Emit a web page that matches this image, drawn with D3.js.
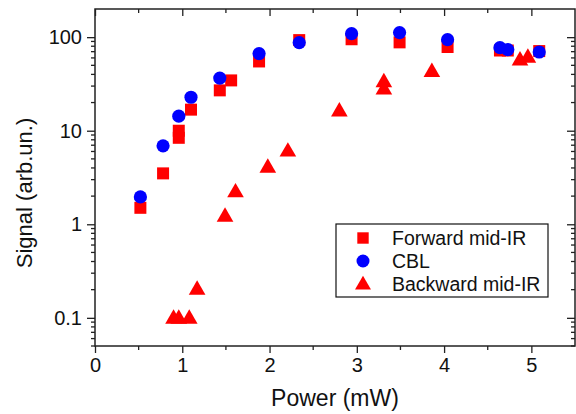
<!DOCTYPE html>
<html>
<head>
<meta charset="utf-8">
<script src="https://cdn.jsdelivr.net/npm/d3@7"></script>
<style>
  body { margin: 0; background: #fff; }
  svg text { font-family: "Liberation Sans", Arial, sans-serif; fill: #111; }
</style>
</head>
<body>
<svg id="chart" width="576" height="414"></svg>
<script>
// data
var fwdX = [0.52, 0.78, 0.96, 0.96, 1.10, 1.43, 1.56, 1.88, 2.34, 2.94, 3.49, 4.04, 4.64, 4.73, 5.09];
var fwdY = [1.5, 3.5, 10.0, 8.4, 16.8, 27, 34.5, 55, 93, 95, 88, 78.5, 72, 72, 71];

var cblX = [0.52, 0.78, 0.96, 1.10, 1.43, 1.88, 2.34, 2.94, 3.49, 4.04, 4.64, 4.73, 5.09];
var cblY = [1.96, 6.9, 14.3, 22.8, 36.5, 66.7, 87.5, 109, 112, 94, 77.3, 73.6, 69.4];

var bwdX = [0.90, 0.96, 1.08, 1.17, 1.49, 1.61, 1.98, 2.21, 2.80, 3.31, 3.31, 3.86, 4.87, 4.96];
var bwdY = [0.1, 0.1, 0.1, 0.204, 1.23, 2.24, 4.1, 6.1, 16.4, 33.6, 28.1, 43.4, 57.5, 61.4];

var xTicks = [0, 1, 2, 3, 4, 5];
var yTicks = [0.1, 1, 10, 100];
var yTickLabels = ["0.1", "1", "10", "100"];
var legendNames = ["Forward mid-IR", "CBL", "Backward mid-IR"];

var svg = d3.select("#chart");
var pL = 95, pR = 575, pT = 9, pB = 346;
var red = "#ff0000", blue = "#0000ff", axisCol = "#222";

var x = d3.scaleLinear().domain([0, 5.5]).range([pL, pR]);
var y = d3.scaleLog().domain([0.05, 200]).range([pB, pT]);

// minor ticks for the log axis (2..9 per decade)
var yMinor = [];
[0.01, 0.1, 1, 10, 100].forEach(function(d) {
  for (var k = 2; k <= 9; k++) {
    var v = d * k;
    if (v >= 0.05 && v < 200) yMinor.push(v);
  }
});
var xMinor = d3.range(0.5, 5.5, 1);

var g = svg.append("g");

// bottom axis
var xAxis = d3.axisBottom(x).tickValues(xTicks).tickSize(7).tickPadding(5).tickFormat(d3.format("d"));
var gx = g.append("g").attr("transform", "translate(0," + pB + ")").call(xAxis);
gx.selectAll(".mnr").data(xMinor).enter().append("line")
  .attr("x1", function(d) { return x(d); }).attr("x2", function(d) { return x(d); })
  .attr("y1", 0).attr("y2", 4);

// top axis (mirror, ticks in)
var gt = g.append("g").attr("transform", "translate(0," + pT + ")")
  .call(d3.axisBottom(x).tickValues(xTicks).tickSize(7).tickFormat(""));
gt.selectAll(".mnr").data(xMinor).enter().append("line")
  .attr("x1", function(d) { return x(d); }).attr("x2", function(d) { return x(d); })
  .attr("y1", 0).attr("y2", 4);

// left axis
var yAxis = d3.axisLeft(y).tickValues(yTicks).tickSize(8).tickPadding(5)
  .tickFormat(function(d, i) { return yTickLabels[i]; });
var gy = g.append("g").attr("transform", "translate(" + pL + ",0)").call(yAxis);
gy.selectAll(".mnr").data(yMinor).enter().append("line")
  .attr("y1", function(d) { return y(d); }).attr("y2", function(d) { return y(d); })
  .attr("x1", 0).attr("x2", -4);

// right axis (mirror, ticks in)
var gr = g.append("g").attr("transform", "translate(" + pR + ",0)")
  .call(d3.axisLeft(y).tickValues(yTicks).tickSize(8).tickFormat(""));
gr.selectAll(".mnr").data(yMinor).enter().append("line")
  .attr("y1", function(d) { return y(d); }).attr("y2", function(d) { return y(d); })
  .attr("x1", 0).attr("x2", -4);

[gx, gt, gy, gr].forEach(function(a) {
  a.select(".domain").remove();
  a.selectAll("line").attr("stroke", axisCol).attr("stroke-width", 1.3);
  a.selectAll("text").attr("font-size", 20).attr("fill", "#111")
    .style("font-family", "'Liberation Sans', Arial, sans-serif");
});

// frame
g.append("rect").attr("x", pL).attr("y", pT)
  .attr("width", pR - pL).attr("height", pB - pT)
  .attr("fill", "none").attr("stroke", axisCol).attr("stroke-width", 1.5);

// symbols
var sq = d3.symbol().type(d3.symbolSquare).size(144);
var tri = d3.symbol().type(d3.symbolTriangle).size(120);

var pts = g.append("g");
pts.selectAll(".fwd").data(fwdX).enter().append("path")
  .attr("d", sq)
  .attr("transform", function(d, i) { return "translate(" + x(d) + "," + y(fwdY[i]) + ")"; })
  .attr("fill", red);

pts.selectAll(".bwd").data(bwdX).enter().append("path")
  .attr("d", tri)
  .attr("transform", function(d, i) { return "translate(" + x(d) + "," + (y(bwdY[i]) + 1) + ")"; })
  .attr("fill", red);

pts.selectAll(".cbl").data(cblX).enter().append("circle")
  .attr("cx", function(d) { return x(d); })
  .attr("cy", function(d, i) { return y(cblY[i]); })
  .attr("r", 6.6)
  .attr("fill", blue);

// axis titles
svg.append("text").attr("x", 335).attr("y", 406).attr("text-anchor", "middle")
  .attr("font-size", 23).text("Power (mW)");
svg.append("text").attr("transform", "translate(32,193) rotate(-90)")
  .attr("text-anchor", "middle").attr("font-size", 22).text("Signal (arb.un.)");

// legend
var lg = svg.append("g");
lg.append("rect").attr("x", 336).attr("y", 224).attr("width", 212).attr("height", 73)
  .attr("fill", "#fff").attr("stroke", "#111").attr("stroke-width", 1.2);
var rowY = d3.scalePoint().domain(legendNames).range([238, 284]);
legendNames.forEach(function(name, i) {
  var cy = rowY(name);
  if (i === 0) lg.append("path").attr("d", d3.symbol().type(d3.symbolSquare).size(130)).attr("fill", red)
    .attr("transform", "translate(363," + cy + ")");
  if (i === 1) lg.append("circle").attr("cx", 363).attr("cy", cy).attr("r", 6.5).attr("fill", blue);
  if (i === 2) lg.append("path").attr("d", d3.symbol().type(d3.symbolTriangle).size(110)).attr("fill", red)
    .attr("transform", "translate(363," + (cy + 1) + ")");
  lg.append("text").attr("x", 392).attr("y", cy + 7).attr("font-size", 19.5).text(name);
});
</script>
</body>
</html>
